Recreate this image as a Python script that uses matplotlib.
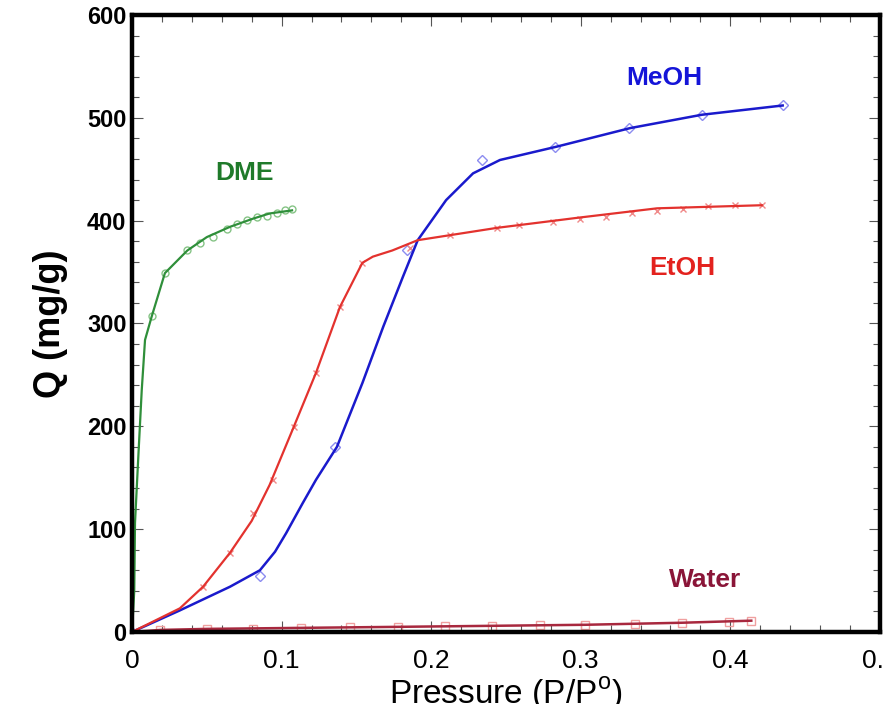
import matplotlib
matplotlib.use("Agg")
from matplotlib import pyplot as plt
from matplotlib.ticker import MultipleLocator

# DME (fitted curve + measured points)
dme_x = [0, 0.0015, 0.002, 0.0042, 0.0065, 0.0087, 0.0132, 0.022, 0.037, 0.050, 0.0655, 0.081, 0.092, 0.107]
dme_y = [0, 40, 106, 170, 235, 284, 307, 349, 371, 384, 394, 402, 407, 410]
dme_px = [0.0132, 0.022, 0.0366, 0.0455, 0.0543, 0.0633, 0.070, 0.0767, 0.0833, 0.090, 0.0967, 0.102, 0.1067]
dme_py = [307, 349, 371, 378, 384, 392, 397, 401, 404, 405, 407, 410, 411]

# MeOH
meoh_x = [0, 0.032, 0.0655, 0.0855, 0.0956, 0.103, 0.114, 0.123, 0.137, 0.154, 0.168, 0.181,
          0.191, 0.210, 0.228, 0.246, 0.284, 0.333, 0.381, 0.435]
meoh_y = [0, 21, 44, 60, 78, 96, 125, 148, 180, 242, 297, 345, 381, 420, 446, 459, 472, 490, 503, 512]
meoh_px = [0, 0.0855, 0.136, 0.184, 0.234, 0.283, 0.332, 0.381, 0.435]
meoh_py = [0, 54, 180, 371, 459, 472, 490, 503, 512]

# EtOH
etoh_x = [0, 0.032, 0.0475, 0.0655, 0.080, 0.092, 0.108, 0.123, 0.139, 0.154, 0.161, 0.174,
          0.191, 0.244, 0.299, 0.351, 0.421]
etoh_y = [0, 23, 44, 77, 108, 143, 199, 252, 316, 359, 365, 371, 381, 393, 403, 412, 415]
etoh_px = [0.0475, 0.0655, 0.081, 0.094, 0.108, 0.123, 0.139, 0.154, 0.186, 0.2126, 0.2438, 0.259,
           0.2816, 0.2995, 0.317, 0.334, 0.351, 0.3685, 0.385, 0.403, 0.421]
etoh_py = [44, 77, 116, 148, 199, 252, 316, 359, 373, 386, 393, 396, 399, 402, 404, 407, 409, 411,
           414, 415, 415]

# Water
water_x = [0, 0.019, 0.05, 0.113, 0.178, 0.241, 0.303, 0.368, 0.414]
water_y = [0, 2, 3, 4, 5, 6, 7, 9, 11]
water_px = [0.019, 0.05, 0.081, 0.113, 0.146, 0.178, 0.209, 0.241, 0.273, 0.303, 0.336, 0.368, 0.399, 0.414]
water_py = [2, 3, 3, 4, 5, 5, 6, 6, 7, 7, 8, 9, 10, 11]

fig = plt.figure(figsize=(8.83, 7.04), dpi=100)
ax = fig.add_axes([0.1495, 0.1023, 0.847, 0.8764])

# measured points
ax.plot(dme_px, dme_py, 'o', ms=5, mfc='none', mec='#86c486', mew=1)
ax.plot(meoh_px, meoh_py, 'D', ms=5, mfc='none', mec='#8c8cf0', mew=1)
ax.plot(etoh_px, etoh_py, 'x', ms=4, color='#f08a8a', mew=1)
ax.plot(water_px, water_py, 's', ms=6, mfc='none', mec='#f0a0a0', mew=1)

# fitted curves
ax.plot(dme_x, dme_y, color='#2f8f3a', lw=1.6)
ax.plot(meoh_x, meoh_y, color='#1a1acc', lw=1.8)
ax.plot(etoh_x, etoh_y, color='#e3322e', lw=1.6)
ax.plot(water_x, water_y, color='#a8283e', lw=1.8)

lab = dict(fontsize=19, fontweight='bold', family='Liberation Sans', ha='center', va='center')
ax.text(0.0755, 446, 'DME', color='#1f7a2a', **lab)
ax.text(0.356, 539, 'MeOH', color='#1515d8', **lab)
ax.text(0.368, 354, 'EtOH', color='#e3221e', **lab)
ax.text(0.383, 51, 'Water', color='#8a1538', **lab)

ax.set_xlim(0, 0.5)
ax.set_ylim(0, 600)
ax.xaxis.set_major_locator(MultipleLocator(0.1))
ax.xaxis.set_minor_locator(MultipleLocator(0.02))
ax.yaxis.set_major_locator(MultipleLocator(100))
ax.yaxis.set_minor_locator(MultipleLocator(20))
ax.tick_params(which='both', direction='in', top=True, right=True, width=0.8, color='#555555')
ax.tick_params(which='major', length=8)
ax.tick_params(which='minor', length=5)
ax.tick_params(axis='x', pad=12)
ax.tick_params(axis='y', pad=4)
for s in ax.spines.values():
    s.set_linewidth(3.2)

ax.set_xticks([0, 0.1, 0.2, 0.3, 0.4, 0.5])
ax.set_xticklabels(['0', '0.1', '0.2', '0.3', '0.4', '0.5'],
                   fontsize=19, family=['Liberation Sans Narrow', 'Liberation Sans'])
ax.set_yticks([0, 100, 200, 300, 400, 500, 600])
ax.set_yticklabels(['0', '100', '200', '300', '400', '500', '600'],
                   fontsize=17, fontweight='bold', family='Liberation Sans')

ax.set_xlabel('Pressure (P/P$^\\mathregular{o}$)', fontsize=24, family='Liberation Sans', labelpad=2)
ax.set_ylabel('Q (mg/g)', fontsize=26, fontweight='bold', family='Liberation Sans', labelpad=14)

fig.savefig('out.png', dpi=100)
